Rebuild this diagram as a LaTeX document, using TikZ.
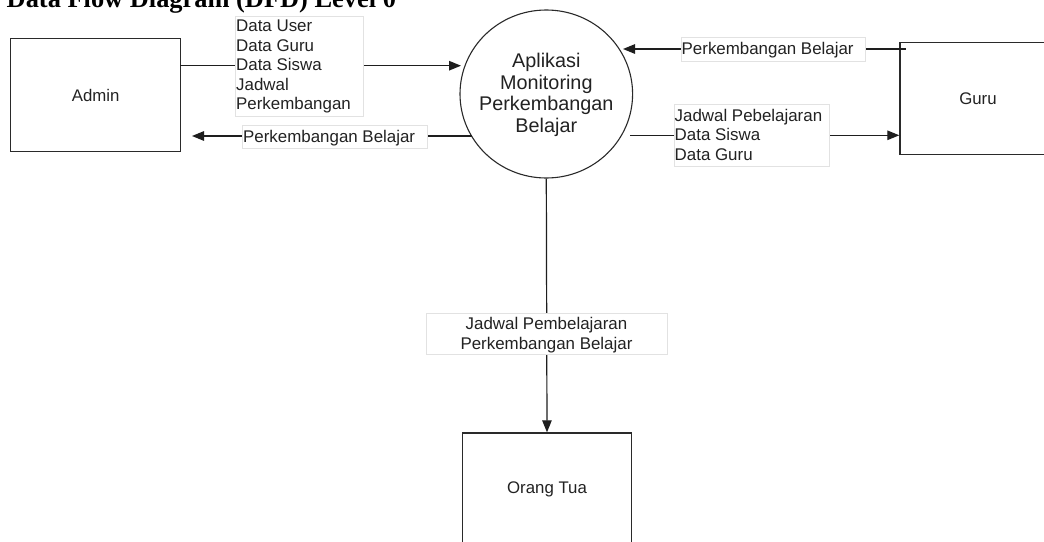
\documentclass[tikz,border=0pt]{standalone}
\usepackage{fontspec}
\setmainfont{Liberation Sans}
\newfontfamily\titlefont{Liberation Serif}
\usetikzlibrary{arrows.meta,shapes.geometric}
\definecolor{boxc}{HTML}{2A2A2A}
\definecolor{linec}{HTML}{1E1E1E}
\definecolor{lblc}{HTML}{E2E2E2}
\definecolor{txtc}{HTML}{222222}
\begin{document}
\begin{tikzpicture}[x=1pt,y=-1pt,
  ent/.style={draw=boxc,line width=1.3pt,fill=white,inner sep=0pt,
    font=\fontsize{16.8}{19.5}\selectfont,text=txtc},
  proc/.style={draw=boxc,line width=1.1pt,ellipse,fill=white,inner sep=0pt},
  lbl/.style={draw=lblc,line width=0.7pt,fill=white,inner sep=0pt},
  txt/.style={inner sep=0pt,font=\fontsize{16.9}{19.5}\selectfont,text=txtc},
  flow/.style={draw=linec,line width=1.2pt,-{Triangle[length=12pt,width=9.5pt]}},
  plain/.style={draw=linec,line width=1.2pt}]
\useasboundingbox (0,0) rectangle (1044,541);
\fill[white] (0,0) rectangle (1044,541);

% title
\node[inner sep=0pt,anchor=base west,font=\titlefont\bfseries\fontsize{26.4}{30}\selectfont] (title) at (6.5,7.5) {Data Flow Diagram (DFD) Level 0};

% coordinates for flow ends
\coordinate (a1s) at (180,65.7);
\coordinate (a1e) at (461,65.7);
\coordinate (a2s) at (471.5,136);
\coordinate (a2e) at (192,136);
\coordinate (g1s) at (905.5,49);
\coordinate (g1e) at (623,49);
\coordinate (g2s) at (630,135.3);
\coordinate (g2e) at (899.3,135.3);

% process
\node[proc,minimum width=172.6pt,minimum height=168pt] (proc) at (546.3,94) {};
\node[txt,align=center,font=\fontsize{19.8}{21.7}\selectfont] (ptxt) at (546.3,95) {Aplikasi\\Monitoring\\Perkembangan\\Belajar};

% entities
\node[ent,anchor=north west,minimum width=170pt,minimum height=113pt] (admin) at (10,38) {Admin};
\node[ent,anchor=north west,minimum width=156pt,minimum height=112.3pt] (guru) at (899.3,41.7) {Guru};
\node[ent,anchor=north west,minimum width=169.3pt,minimum height=112pt] (ortu) at (461.7,432.3) {Orang Tua};

% flows
\draw[flow] (a1s) -- (a1e);
\draw[flow] (a2s) -- (a2e);
\draw[flow] (g1s) -- (g1e);
\draw[flow] (g2s) -- (g2e);
\draw[flow] (proc.south) -- (ortu.north);

% label boxes
\node[lbl,anchor=north west,minimum width=128.7pt,minimum height=100pt] (l1) at (234.5,16) {};
\node[lbl,anchor=north west,minimum width=185pt,minimum height=23pt] (l2) at (242,125) {};
\node[lbl,anchor=north west,minimum width=183.5pt,minimum height=23.4pt] (l3) at (681,37.3) {};
\node[lbl,anchor=north west,minimum width=155pt,minimum height=61.7pt] (l4) at (674,104) {};
\node[lbl,anchor=north west,minimum width=241pt,minimum height=41.3pt] (l5) at (426,312.7) {};

% label texts
\node[txt,anchor=north west,align=left] (t1) at (236,20.0) {Data User\\Data Guru\\Data Siswa\\Jadwal\\Perkembangan};
\node[txt,anchor=base west] (t2) at (243,142) {Perkembangan Belajar};
\node[txt,anchor=base west] (t3) at (681.5,54) {Perkembangan Belajar};
\node[txt,anchor=north west,align=left] (t4) at (674.5,108.8) {Jadwal Pebelajaran\\Data Siswa\\Data Guru};
\node[txt,anchor=north,align=center] (t5) at (546.5,317.2) {Jadwal Pembelajaran\\Perkembangan Belajar};
\end{tikzpicture}
\end{document}
